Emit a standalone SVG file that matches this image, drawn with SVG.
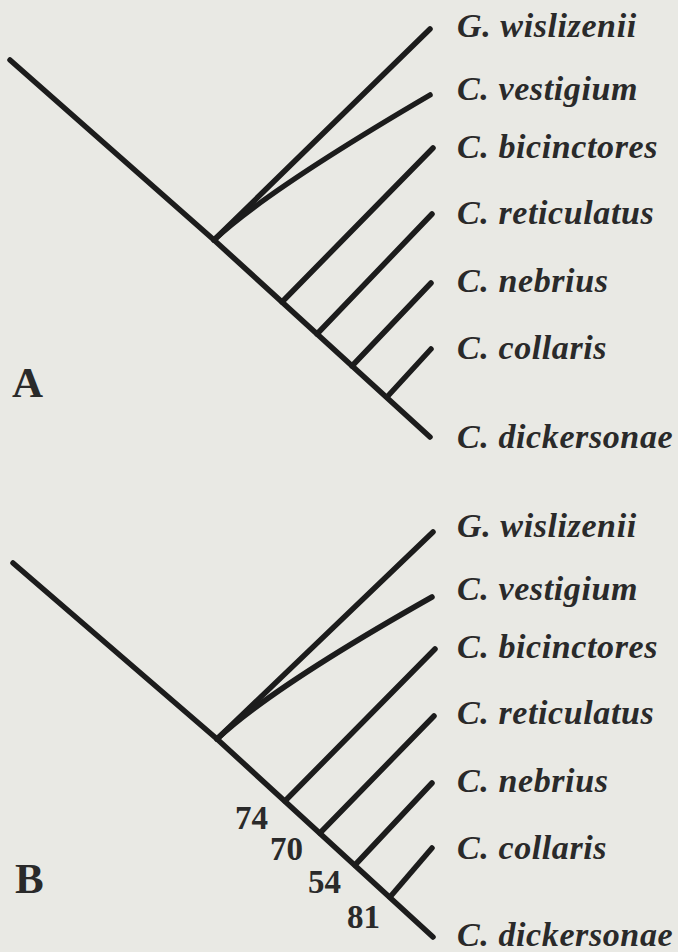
<svg xmlns="http://www.w3.org/2000/svg" width="678" height="952" viewBox="0 0 678 952">
<style>
.br{fill:none;stroke:#1c1c1c;stroke-width:5.5;stroke-linecap:round;stroke-linejoin:round}
.tx{font-family:"Liberation Serif","Times New Roman",serif;font-style:italic;font-weight:bold;font-size:34px;letter-spacing:0.6px;fill:#2a2a2a}
.pl{font-family:"Liberation Serif","Times New Roman",serif;font-weight:bold;font-size:43px;fill:#2a2a2a}
.bs{font-family:"Liberation Serif","Times New Roman",serif;font-weight:bold;font-size:33px;fill:#2a2a2a}
</style>
<rect width="678" height="952" fill="#e9e9e4"/>
<g id="connectors">
  <g id="treeA">
    <polyline class="br" points="10,60 214,240 430,437"/>
    <line class="br" x1="214" y1="240" x2="430" y2="29"/>
    <path class="br" d="M214,240 C248,208 312,164 430,95"/>
    <line class="br" x1="282" y1="302" x2="433" y2="148"/>
    <line class="br" x1="317" y1="334" x2="432" y2="214"/>
    <line class="br" x1="352" y1="366" x2="431" y2="283"/>
    <line class="br" x1="387" y1="397" x2="431" y2="349"/>
  </g>
  <g id="treeB">
    <polyline class="br" points="13,563 217,739 433,937"/>
    <line class="br" x1="217" y1="739" x2="433" y2="532"/>
    <path class="br" d="M217,739 C251,707 315,663 432,597"/>
    <line class="br" x1="285" y1="801" x2="435" y2="649"/>
    <line class="br" x1="320" y1="833" x2="434" y2="716"/>
    <line class="br" x1="355" y1="865" x2="432" y2="783"/>
    <line class="br" x1="390" y1="897" x2="432" y2="848"/>
  </g>
</g>
<g id="labelA"><text class="pl" x="12" y="397">A</text></g>
<g id="labelB"><text class="pl" x="15" y="893">B</text></g>
<g id="taxaA">
  <g id="A-wislizenii"><text class="tx" x="457" y="37">G. wislizenii</text></g>
  <g id="A-vestigium"><text class="tx" x="457" y="100">C. vestigium</text></g>
  <g id="A-bicinctores"><text class="tx" x="457" y="158">C. bicinctores</text></g>
  <g id="A-reticulatus"><text class="tx" x="457" y="224">C. reticulatus</text></g>
  <g id="A-nebrius"><text class="tx" x="457" y="292">C. nebrius</text></g>
  <g id="A-collaris"><text class="tx" x="457" y="359">C. collaris</text></g>
  <g id="A-dickersonae"><text class="tx" x="457" y="448">C. dickersonae</text></g>
</g>
<g id="taxaB">
  <g id="B-wislizenii"><text class="tx" x="457" y="537">G. wislizenii</text></g>
  <g id="B-vestigium"><text class="tx" x="457" y="600">C. vestigium</text></g>
  <g id="B-bicinctores"><text class="tx" x="457" y="658">C. bicinctores</text></g>
  <g id="B-reticulatus"><text class="tx" x="457" y="724">C. reticulatus</text></g>
  <g id="B-nebrius"><text class="tx" x="457" y="792">C. nebrius</text></g>
  <g id="B-collaris"><text class="tx" x="457" y="859">C. collaris</text></g>
  <g id="B-dickersonae"><text class="tx" x="457" y="946">C. dickersonae</text></g>
</g>
<g id="support">
  <text class="bs" x="235" y="829">74</text>
  <text class="bs" x="270" y="860">70</text>
  <text class="bs" x="308" y="893">54</text>
  <text class="bs" x="347" y="928">81</text>
</g>
</svg>
